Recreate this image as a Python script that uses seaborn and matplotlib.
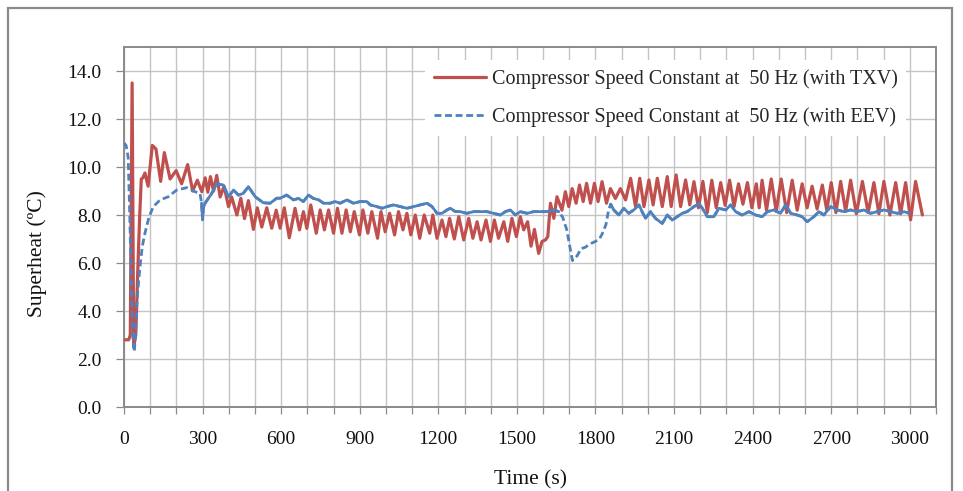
import numpy as np
import pandas as pd
import matplotlib
matplotlib.use("Agg")
import matplotlib.pyplot as plt
import seaborn as sns
from matplotlib.patches import Rectangle
from matplotlib.ticker import FormatStrFormatter

# ---------------- data ----------------
series_labels = ["Compressor Speed Constant at  50 Hz (with TXV)",
                 "Compressor Speed Constant at  50 Hz (with EEV)"]

red_t = [0, 18, 24, 31, 37, 45, 52, 60, 66, 72, 80, 92, 108, 122, 140, 154, 176, 199, 220, 243,
         262, 280, 297, 310, 320, 330, 342, 354, 367, 382, 399, 411, 431, 446, 460, 475, 494, 509,
         526, 545, 564, 581, 596, 612, 631, 653, 670, 685, 698, 713, 734, 749, 765, 781, 800, 815,
         832, 848, 864, 879, 899, 912, 931, 946, 968, 981, 997, 1014, 1033, 1048, 1065, 1080, 1095,
         1112, 1129, 1146, 1167, 1179, 1195, 1214, 1229, 1243, 1261, 1278, 1297, 1316, 1332, 1348,
         1363, 1382, 1399, 1414, 1430, 1450, 1465, 1481, 1498, 1513, 1526, 1541, 1554, 1567, 1583,
         1596, 1609, 1618, 1628, 1641, 1653, 1672, 1685, 1698, 1711, 1726, 1739, 1753, 1766, 1781,
         1796, 1810, 1825, 1842, 1857, 1876, 1895, 1915, 1934, 1953, 1969, 1985, 2004, 2020, 2036,
         2055, 2074, 2089, 2108, 2125, 2144, 2160, 2176, 2193, 2210, 2227, 2244, 2261, 2278, 2295,
         2312, 2329, 2346, 2363, 2380, 2397, 2414, 2425, 2436, 2453, 2471, 2490, 2509, 2530, 2551,
         2570, 2589, 2608, 2627, 2646, 2666, 2683, 2700, 2718, 2736, 2755, 2774, 2796, 2819, 2841,
         2863, 2882, 2901, 2924, 2946, 2965, 2984, 3003, 3022, 3048]
red_v = [2.8, 2.8, 3.0, 13.5, 2.5, 3.0, 5.5, 8.0, 9.5, 9.55, 9.75, 9.2, 10.9, 10.75, 9.4, 10.6, 9.5,
         9.85, 9.3, 10.1, 9.0, 9.45, 8.97, 9.55, 8.95, 9.6, 9.0, 9.65, 8.75, 9.2, 8.35, 8.75, 8.0,
         8.7, 7.85, 8.6, 7.4, 8.3, 7.5, 8.3, 7.45, 8.2, 7.45, 8.3, 7.05, 8.28, 7.38, 8.14, 7.44,
         8.42, 7.24, 8.21, 7.38, 8.21, 7.24, 8.28, 7.24, 8.21, 7.3, 8.14, 7.17, 8.21, 7.24, 8.14,
         7.03, 8.14, 7.3, 8.07, 7.17, 8.14, 7.38, 8.07, 7.17, 8.0, 7.03, 8.0, 7.24, 8.0, 7.03, 7.79,
         7.1, 7.86, 7.0, 7.93, 6.96, 7.86, 7.03, 7.72, 6.96, 7.79, 6.9, 7.79, 7.03, 7.72, 6.9, 7.86,
         7.1, 7.93, 7.38, 7.72, 6.7, 7.4, 6.4, 6.9, 6.96, 7.1, 8.49, 7.86, 8.76, 8.2, 8.97, 8.35,
         9.1, 8.49, 9.25, 8.56, 9.32, 8.49, 9.32, 8.56, 9.39, 8.49, 9.1, 8.69, 9.1, 8.63, 9.53, 8.35,
         9.53, 8.35, 9.46, 8.42, 9.53, 8.35, 9.6, 8.35, 9.67, 8.35, 9.46, 8.42, 9.39, 8.3, 9.4, 8.1,
         9.45, 8.3, 9.35, 8.4, 9.45, 8.35, 9.3, 8.45, 9.35, 8.3, 9.3, 8.3, 9.45, 8.2, 9.5, 8.15, 9.5,
         8.1, 9.45, 8.2, 9.3, 8.3, 9.2, 8.25, 9.25, 8.2, 9.35, 8.1, 9.4, 8.15, 9.45, 8.05, 9.4, 8.1,
         9.35, 8.05, 9.4, 8.0, 9.35, 8.05, 9.35, 7.8, 9.4, 8.0]

blue_t = [0, 8, 16, 22, 28, 34, 39, 44, 50, 61, 70, 80, 95, 112, 138, 169, 201, 240, 271, 290,
          296, 300, 303, 310, 335, 354, 379, 399, 418, 437, 455, 475, 501, 532, 558, 583, 596, 621,
          647, 666, 685, 704, 723, 743, 762, 787, 806, 825, 851, 876, 902, 927, 940, 965, 985, 1004,
          1029, 1055, 1080, 1106, 1131, 1157, 1176, 1195, 1214, 1233, 1246, 1265, 1284, 1309, 1335,
          1360, 1386, 1411, 1437, 1456, 1475, 1494, 1513, 1539, 1564, 1590, 1615, 1641, 1660, 1675,
          1690, 1700, 1712, 1730, 1745, 1760, 1780, 1800, 1815, 1825, 1840, 1850, 1858, 1870, 1889,
          1908, 1927, 1946, 1966, 1978, 1991, 2010, 2029, 2055, 2074, 2093, 2112, 2131, 2150, 2176,
          2195, 2208, 2227, 2252, 2271, 2297, 2316, 2335, 2360, 2386, 2411, 2437, 2456, 2481, 2506,
          2526, 2545, 2570, 2589, 2608, 2634, 2653, 2672, 2698, 2723, 2749, 2774, 2799, 2825, 2850,
          2876, 2901, 2927, 2952, 2978, 2997]
blue_v = [11.0, 10.9, 10.4, 8.0, 5.0, 2.8, 2.3, 3.0, 4.5, 5.85, 6.7, 7.24, 7.9, 8.35, 8.63, 8.76,
          9.04, 9.14, 8.97, 8.9, 8.5, 7.8, 8.3, 8.5, 8.9, 9.3, 9.25, 8.76, 9.04, 8.83, 8.9, 9.18,
          8.76, 8.51, 8.49, 8.7, 8.7, 8.83, 8.63, 8.69, 8.56, 8.83, 8.69, 8.63, 8.49, 8.49, 8.56,
          8.49, 8.63, 8.49, 8.56, 8.56, 8.42, 8.35, 8.28, 8.35, 8.42, 8.35, 8.28, 8.35, 8.42, 8.49,
          8.35, 8.07, 8.07, 8.21, 8.28, 8.14, 8.14, 8.07, 8.14, 8.14, 8.14, 8.07, 8.0, 8.14, 8.21,
          8.0, 8.14, 8.07, 8.14, 8.14, 8.14, 8.21, 8.14, 7.9, 7.4, 6.8, 6.1, 6.3, 6.6, 6.65, 6.8,
          6.9, 7.0, 7.2, 7.6, 8.2, 8.45, 8.21, 8.0, 8.28, 8.07, 8.21, 8.42, 8.14, 7.86, 8.14, 7.86,
          7.65, 8.0, 7.79, 7.93, 8.07, 8.14, 8.35, 8.47, 8.28, 7.93, 7.93, 8.28, 8.21, 8.42, 8.14,
          8.0, 8.14, 8.0, 7.93, 8.14, 8.21, 8.07, 8.42, 8.07, 8.0, 7.93, 7.72, 7.93, 8.14, 8.0, 8.35,
          8.21, 8.14, 8.21, 8.14, 8.21, 8.07, 8.14, 8.21, 8.14, 8.07, 8.14, 8.07]

x_ticks = [0, 300, 600, 900, 1200, 1500, 1800, 2100, 2400, 2700, 3000]
y_ticks = [0, 2, 4, 6, 8, 10, 12, 14]

# ---------------- styling ----------------
sns.set_theme(style="white")
plt.rcParams['font.family'] = ['Liberation Serif', 'DejaVu Serif']
plt.rcParams['lines.scale_dashes'] = False

RED = "#C0504D"
BLUE = "#4F81BD"
GRID = "#C4C4C4"
FRAME = "#8A8A8A"

W, H = 963, 491
fig = plt.figure(figsize=(W / 100, H / 100), dpi=100)
ax = fig.add_axes([124 / W, (H - 407) / H, 812 / W, 360 / H])

df_red = pd.DataFrame({"t": red_t, "v": red_v})
df_blue = pd.DataFrame({"t": blue_t, "v": blue_v})

sns.lineplot(data=df_red, x="t", y="v", ax=ax, color=RED, lw=2.3, estimator=None,
             sort=False, label=series_labels[0], zorder=3)
sns.lineplot(data=df_blue, x="t", y="v", ax=ax, color=BLUE, lw=2.0, estimator=None,
             sort=False, label=series_labels[1], linestyle="--", zorder=4)
blue_line = ax.get_lines()[-1]
blue_line.set_dashes([5, 2.6])

# dense stretches of the Excel dashed series render as continuous lines
solid1 = df_blue[(df_blue.t >= 296) & (df_blue.t <= 1662)]
solid2 = df_blue[df_blue.t >= 1856]
for part in (solid1, solid2):
    sns.lineplot(data=part, x="t", y="v", ax=ax, color=BLUE, lw=2.0, estimator=None,
                 sort=False, legend=False, zorder=4)

ax.set_xlim(0, 3100)
ax.set_ylim(0, 15)
ax.set_xticks(x_ticks)
ax.set_xticks(np.arange(0, 3101, 100), minor=True)
ax.set_yticks(y_ticks)
ax.yaxis.set_major_formatter(FormatStrFormatter("%.1f"))
ax.grid(True, which="both", axis="x", color=GRID, lw=1.0, zorder=0)
ax.grid(True, which="major", axis="y", color=GRID, lw=1.0, zorder=0)
ax.set_axisbelow(True)

for s in ax.spines.values():
    s.set_color(FRAME)
    s.set_linewidth(1.4)

ax.tick_params(axis="x", which="both", direction="out", length=5, width=0.9, color=FRAME,
               bottom=True, labelsize=14, pad=12, labelcolor="#111111")
ax.tick_params(axis="y", which="major", direction="out", length=6, width=0.9, color=FRAME,
               left=True, labelsize=14, pad=10, labelcolor="#111111")

ax.set_xlabel("Time (s)", fontsize=15.5, color="#111111")
ax.set_ylabel("Superheat (ºC)", fontsize=15.5, color="#111111")
ax.xaxis.set_label_coords(0.5, (407 - 470) / 360)
ax.yaxis.set_label_coords((47 - 124) / 812, (407 - 254) / 360)

leg = ax.legend(loc="upper right", bbox_to_anchor=(0.976, 0.992), fontsize=14.5,
                frameon=True, fancybox=False, handlelength=2.6, handletextpad=0.25,
                labelspacing=0.9, borderpad=0.45)
leg.get_frame().set_facecolor("white")
leg.get_frame().set_edgecolor("none")
leg.get_frame().set_alpha(1.0)

# outer chart border
fig.patches.append(Rectangle((8 / W, -0.05), (952 - 8) / W, (H - 8) / H + 0.05,
                             transform=fig.transFigure, fill=False, edgecolor=FRAME, lw=1.6))

fig.savefig("out.png", dpi=100)
